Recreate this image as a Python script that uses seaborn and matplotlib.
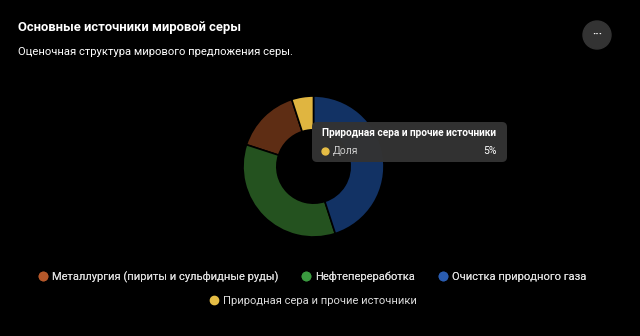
import matplotlib
matplotlib.use("Agg")
import matplotlib.pyplot as plt
import seaborn as sns
from matplotlib.patches import FancyBboxPatch, Circle
from matplotlib.lines import Line2D

sns.set_theme(style="dark")
plt.rcParams['font.family'] = ['Roboto', 'DejaVu Sans']

# Data
categories = ["Металлургия (пириты и сульфидные руды)", "Нефтепереработка",
              "Очистка природного газа", "Природная сера и прочие источники"]
shares = [15, 35, 45, 5]
slice_colors = ["#5e2d14", "#24521f", "#123264", "#e0b540"]
legend_colors = ["#b5582a", "#3a9a3f", "#2a5cb0", "#e6bd45"]
title = "Основные источники мировой серы"
subtitle = "Оценочная структура мирового предложения серы."
tooltip_title = "Природная сера и прочие источники"
tooltip_label = "Доля"
tooltip_value = "5%"

fig = plt.figure(figsize=(6.4, 3.36), dpi=100, facecolor="black")

W, H = 640, 336
cx, cy, r = 313.5, 166.5, 70.5
ax = fig.add_axes([(cx - r) / W, 1 - (cy + r) / H, 2 * r / W, 2 * r / H])
ax.set_facecolor("black")
start = 90 + 360 * shares[-1] / sum(shares)
ax.pie(shares, colors=slice_colors, startangle=start, counterclock=True,
       radius=1.0, wedgeprops=dict(width=0.48, edgecolor="black", linewidth=1.2))
ax.set_xlim(-1, 1)
ax.set_ylim(-1, 1)
ax.set_aspect("equal")
ax.axis("off")

# Title & subtitle
fig.text(18 / W, 1 - 28 / H, title, color="white", fontsize=9.4,
         fontweight="bold", va="center", ha="left")
fig.text(18 / W, 1 - 52 / H, subtitle, color="white", fontsize=8.1,
         va="center", ha="left")

ov = fig.add_axes([0, 0, 1, 1], facecolor="none")
ov.set_xlim(0, W)
ov.set_ylim(H, 0)
ov.axis("off")
ov.add_patch(Circle((597, 35), 14, color="#333333"))
ov.text(597, 34, "···", color="white", fontsize=8, ha="center", va="center",
        fontweight="bold")

# Tooltip
ov.add_patch(FancyBboxPatch((312, 122), 195, 40,
                            boxstyle="round,pad=0,rounding_size=5",
                            facecolor="#333333", edgecolor="none", alpha=0.97))
ov.text(322, 133, tooltip_title, color="white", fontsize=7.3,
        fontweight="bold", va="center", ha="left")
ov.plot([325], [150.5], "o", color=legend_colors[3], markersize=5)
ov.text(333, 150.5, tooltip_label, color="#cccccc", fontsize=7.5,
        va="center", ha="left")
ov.text(497, 150.5, tooltip_value, color="white", fontsize=7.5,
        va="center", ha="right")

# Legend
handles = [Line2D([0], [0], marker="o", linestyle="none", markersize=6,
                  markerfacecolor=c, markeredgecolor=c) for c in legend_colors]
leg_kw = dict(frameon=False, fontsize=8.0, labelcolor="#dddddd",
              handletextpad=0.3, handlelength=1.0)
leg1 = fig.legend(handles[:3], categories[:3], loc="center",
                  bbox_to_anchor=(312 / W, 1 - 277 / H), ncol=3,
                  columnspacing=2.0, **leg_kw)
fig.add_artist(leg1)
fig.legend(handles[3:], categories[3:], loc="center",
           bbox_to_anchor=(313 / W, 1 - 301 / H), ncol=1, **leg_kw)

fig.savefig("out.png", dpi=100, facecolor="black")
